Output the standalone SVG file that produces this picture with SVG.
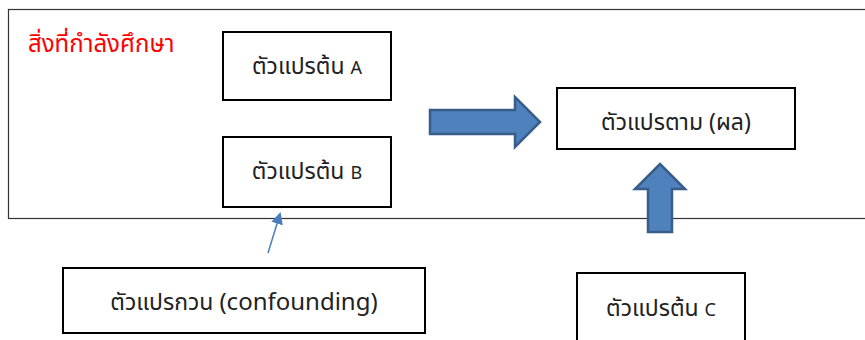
<svg xmlns="http://www.w3.org/2000/svg" width="865" height="340" viewBox="0 0 865 340">
<style>
.box{fill:#fff;stroke:#000;stroke-width:2}
.t{font-family:"Noto Sans Thai","Noto Sans","DejaVu Sans",sans-serif;font-size:23px;fill:#222;text-anchor:middle}
.l{font-size:18px}
.big{fill:#4F81BD;stroke:#385D8A;stroke-width:2.5}
</style>
<defs>
<marker id="ah" markerWidth="12" markerHeight="12" refX="10" refY="6" orient="auto" markerUnits="userSpaceOnUse">
<path d="M0,0 L12,6 L0,12 Z" fill="#4A7EBB"/>
</marker>
</defs>
<rect width="865" height="340" fill="#fff"/>
<g id="study-area">
<rect x="8.5" y="9.5" width="870" height="209" fill="none" stroke="#333" stroke-width="1.2"/>
<text x="28" y="52" style="font-family:'Noto Sans Thai','Noto Sans','DejaVu Sans',sans-serif;font-size:24px;fill:#FF0000">สิ่งที่กำลังศึกษา</text>
</g>
<g id="varA">
<rect class="box" x="223" y="32" width="168" height="68"/>
<text class="t" x="307" y="74">ตัวแปรต้น <tspan class="l">A</tspan></text>
</g>
<g id="varB">
<rect class="box" x="223" y="137" width="168" height="70"/>
<text class="t" x="307" y="179">ตัวแปรต้น <tspan class="l">B</tspan></text>
</g>
<g id="result">
<rect class="box" x="557" y="88" width="238" height="61"/>
<text class="t" x="676" y="130">ตัวแปรตาม (ผล)</text>
</g>
<g id="confounder">
<rect class="box" x="63" y="268" width="362" height="65"/>
<text class="t" x="244" y="310">ตัวแปรกวน <tspan style="font-size:24px">(confounding)</tspan></text>
</g>
<g id="varC">
<rect class="box" x="577" y="273" width="168" height="80"/>
<text class="t" x="661" y="316">ตัวแปรต้น <tspan class="l">C</tspan></text>
</g>
<g id="connectors">
<path class="big" d="M430,110 L515,110 L515,97 L540,122 L515,147 L515,134 L430,134 Z"/>
<path class="big" d="M660,164 L685,189 L672,189 L672,232 L648,232 L648,189 L635,189 Z"/>
<line x1="268" y1="253" x2="280" y2="214" stroke="#4A7EBB" stroke-width="1.5" marker-end="url(#ah)"/>
</g>
</svg>
